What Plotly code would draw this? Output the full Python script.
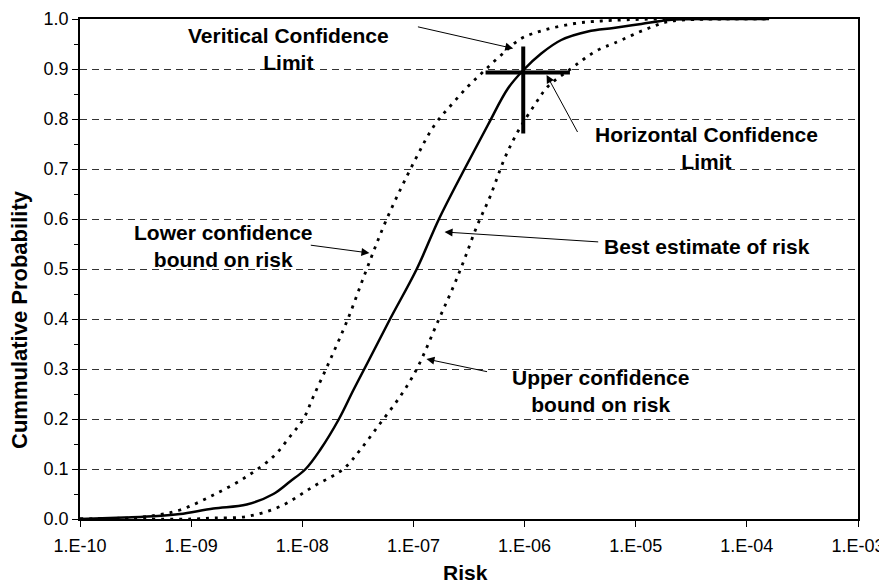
import plotly.graph_objects as go

# log10(risk) and cumulative probability
best_logx = [-10.0, -9.6, -9.3, -9.1, -8.8, -8.5, -8.26, -8.11, -7.97, -7.84, -7.67, -7.54,
             -7.40, -7.21, -6.97, -6.77, -6.54, -6.33, -6.15, -6.01, -5.85, -5.67, -5.43,
             -5.2, -4.95, -4.7, -4.3, -3.8]
best_y = [0.0, 0.003, 0.006, 0.01, 0.021, 0.029, 0.05, 0.075, 0.1, 0.138, 0.2, 0.258,
          0.318, 0.4, 0.5, 0.6, 0.7, 0.788, 0.861, 0.898, 0.931, 0.958, 0.975,
          0.982, 0.99, 0.998, 1.0, 1.0]

lower_logx = [-10.0, -9.5, -9.3, -9.1, -8.8, -8.5, -8.26, -8.11, -7.99, -7.90, -7.75, -7.59,
              -7.42, -7.24, -6.99, -6.81, -6.66, -6.51, -6.37, -6.21, -6.03, -5.82, -5.55,
              -5.31, -4.8, -3.8]
lower_y = [0.0, 0.003, 0.008, 0.018, 0.048, 0.085, 0.125, 0.165, 0.2, 0.245, 0.318, 0.4,
           0.5, 0.6, 0.716, 0.788, 0.828, 0.865, 0.895, 0.928, 0.961, 0.978, 0.991,
           0.996, 1.0, 1.0]

upper_logx = [-10.0, -9.0, -8.8, -8.5, -8.2, -7.90, -7.63, -7.48, -7.30, -7.12, -6.97,
              -6.77, -6.64, -6.54, -6.43, -6.31, -6.18, -6.06, -5.91, -5.79, -5.58, -5.46,
              -5.34, -5.19, -4.88, -4.70, -4.23, -3.8]
upper_y = [0.0, 0.0, 0.002, 0.005, 0.025, 0.065, 0.1, 0.138, 0.191, 0.245, 0.3,
           0.4, 0.465, 0.52, 0.585, 0.645, 0.721, 0.775, 0.828, 0.865, 0.901, 0.921,
           0.938, 0.952, 0.982, 0.995, 1.0, 1.0]

# confidence cross at the 90th percentile
vert_logx = [-6.012, -6.012]
vert_y = [0.771, 0.945]
horiz_logx = [-6.351, -5.592]
horiz_y = [0.893, 0.893]

tick_logx = [-10, -9, -8, -7, -6, -5, -4, -3]
tick_text = ['1.E-10', '1.E-09', '1.E-08', '1.E-07', '1.E-06', '1.E-05', '1.E-04', '1.E-03']

FONT = 'Arial, Liberation Sans, sans-serif'

fig = go.Figure()

def pw(v):
    return [10 ** a for a in v]

fig.add_trace(go.Scatter(x=pw(lower_logx), y=lower_y, mode='lines', line_shape='spline',
                         line=dict(color='black', width=2.8, dash='3px,6px')))
fig.add_trace(go.Scatter(x=pw(upper_logx), y=upper_y, mode='lines', line_shape='spline',
                         line=dict(color='black', width=2.8, dash='3px,6px')))
fig.add_trace(go.Scatter(x=pw(best_logx), y=best_y, mode='lines', line_shape='spline',
                         line=dict(color='black', width=2.5)))
fig.add_trace(go.Scatter(x=pw(vert_logx), y=vert_y, mode='lines',
                         line=dict(color='black', width=4)))
fig.add_trace(go.Scatter(x=pw(horiz_logx), y=horiz_y, mode='lines',
                         line=dict(color='black', width=4)))

labels = [
    ('Veritical Confidence<br>Limit', -8.12, 0.941),
    ('Horizontal Confidence<br>Limit', -4.36, 0.743),
    ('Best estimate of risk', -4.36, 0.546),
    ('Lower confidence<br>bound on risk', -8.71, 0.546),
    ('Upper confidence<br>bound on risk', -5.32, 0.256),
]
for txt, lx, ly in labels:
    fig.add_annotation(x=lx, y=ly, xref='x', yref='y', text='<b>' + txt + '</b>', showarrow=False,
                       font=dict(family=FONT, size=21, color='black'), align='center')

# arrows: (head x, head y, tail x, tail y)
arrows = [
    (-6.102, 0.941, -6.973, 0.985),
    (-5.802, 0.888, -5.516, 0.771),
    (-7.396, 0.532, -7.937, 0.548),
    (-6.72, 0.574, -5.324, 0.554),
    (-6.883, 0.32, -6.324, 0.294),
]
for hx, hy, tx, ty in arrows:
    fig.add_annotation(x=hx, y=hy, ax=tx, ay=ty, xref='x', yref='y', axref='x', ayref='y',
                       text='', showarrow=True, arrowhead=2, arrowsize=1.6, arrowwidth=1,
                       arrowcolor='black')

# axis titles placed as annotations
fig.add_annotation(x=0, y=0.398, xref='paper', yref='paper', xanchor='center', yanchor='middle',
                   xshift=-61, textangle=-90,
                   text='<b>Cummulative Probability</b>', showarrow=False,
                   font=dict(family=FONT, size=22, color='black'))
fig.add_annotation(x=0.495, y=0, xref='paper', yref='paper', xanchor='center', yanchor='middle',
                   yshift=-53,
                   text='<b>Risk</b>', showarrow=False,
                   font=dict(family=FONT, size=21, color='black'))

# page body adds 8px around the figure, so the figure is 8px smaller
fig.update_layout(width=879, height=578, margin=dict(l=72, r=29, t=11, b=67),
                  paper_bgcolor='white', plot_bgcolor='white', showlegend=False,
                  font=dict(family=FONT, size=18, color='black'))
fig.update_xaxes(type='log', range=[-10, -3], tickvals=pw(tick_logx), ticktext=tick_text,
                 showgrid=False, showline=True, linecolor='black', linewidth=1.5, mirror=True,
                 ticks='outside', ticklen=6, tickcolor='black', zeroline=False, automargin=False,
                 ticklabelstandoff=4)
fig.update_yaxes(range=[0, 1], dtick=0.1, tickformat='.1f', showgrid=True, gridcolor='#333',
                 griddash='7px,5px', gridwidth=1, showline=True, linecolor='black', linewidth=1.5,
                 mirror=True, ticks='outside', ticklen=6, tickcolor='black', zeroline=False,
                 automargin=False,
                 minor=dict(ticks='outside', dtick=0.05, ticklen=4, tickcolor='black', showgrid=False))

fig.write_html("out.html")
